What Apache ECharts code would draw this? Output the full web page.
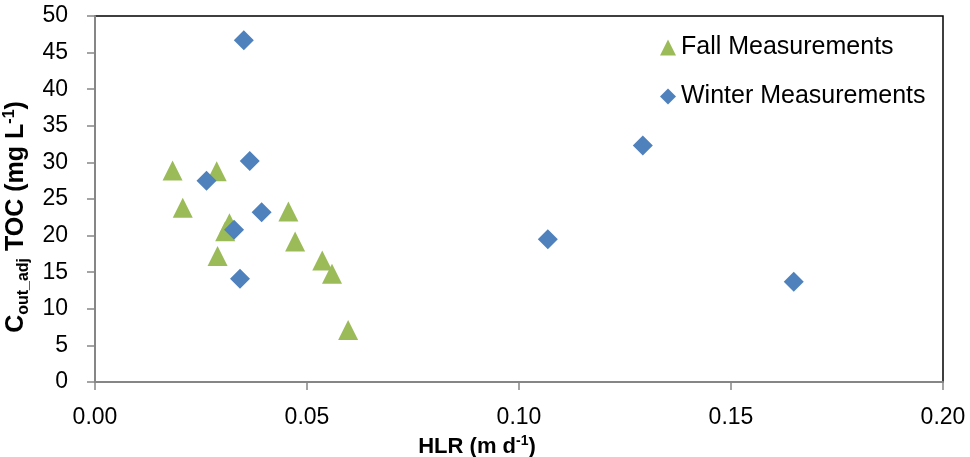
<!DOCTYPE html>
<html lang="en">
<head>
    <meta charset="UTF-8">
    <title>TOC vs HLR</title>
    <script src="https://cdn.jsdelivr.net/npm/echarts@6.0.0/dist/echarts.min.js"></script>
    <style>
        * { margin: 0; padding: 0; box-sizing: border-box; }
        body { background: #fff; }
        #chart { width: 970px; height: 457px; }
    </style>
</head>
<body>
    <div id="chart"></div>

    <script>
        // Fall measurements (HLR, C_out_adj TOC)
        const fallHLR = [0.0183, 0.0287, 0.0207, 0.0317, 0.0307, 0.0289, 0.0456, 0.0472, 0.0536, 0.0559, 0.0597];
        const fallTOC = [28.9, 28.8, 23.8, 21.7, 20.6, 17.2, 23.3, 19.2, 16.6, 14.8, 7.1];

        // Winter measurements
        const winterHLR = [0.0351, 0.0365, 0.0263, 0.0393, 0.0328, 0.0342, 0.1068, 0.1292, 0.1648];
        const winterTOC = [46.7, 30.2, 27.5, 23.2, 20.8, 14.1, 19.5, 32.3, 13.7];

        const seriesNames = ['Fall Measurements', 'Winter Measurements'];

        const FONT = '"Liberation Sans", Arial, sans-serif';

        function pairs(xs, ys) {
            return xs.map(function (x, i) { return [x, ys[i]]; });
        }

        const chart = echarts.init(document.getElementById('chart'));
        chart.setOption({
            animation: false,
            textStyle: { fontFamily: FONT },
            grid: {
                left: 95, right: 27, top: 16, bottom: 75,
                show: true,
                borderColor: '#000',
                borderWidth: 1.5,
                backgroundColor: 'transparent',
                outerBoundsMode: 'none'
            },
            legend: {
                orient: 'vertical',
                left: 655,
                top: 30,
                itemWidth: 16,
                itemHeight: 16,
                itemGap: 24,
                textStyle: { fontSize: 25, color: '#000', fontFamily: FONT },
                data: [
                    { name: seriesNames[0], icon: 'triangle' },
                    { name: seriesNames[1], icon: 'diamond' }
                ]
            },
            xAxis: {
                type: 'value',
                min: 0,
                max: 0.2,
                interval: 0.05,
                splitLine: { show: false },
                axisLine: { lineStyle: { color: '#868686', width: 2 } },
                axisTick: { show: true, length: 8, lineStyle: { color: '#868686', width: 1.5 } },
                axisLabel: {
                    fontSize: 23, color: '#000', margin: 24,
                    formatter: function (v) { return v.toFixed(2); }
                },
                name: '{b|HLR (m d}{sup|-1}{b|)}',
                nameLocation: 'middle',
                nameGap: 50,
                nameTextStyle: {
                    padding: [0, 84, 0, 0],
                    rich: {
                        b: { fontSize: 22, fontWeight: 'bold', color: '#000', lineHeight: 26, fontFamily: FONT },
                        sup: { fontSize: 14, fontWeight: 'bold', color: '#000', verticalAlign: 'top', lineHeight: 14, fontFamily: FONT }
                    }
                }
            },
            yAxis: {
                type: 'value',
                min: 0,
                max: 50,
                interval: 5,
                splitLine: { show: false },
                axisLine: { show: true, lineStyle: { color: '#868686', width: 2 } },
                axisTick: { show: true, length: 8, lineStyle: { color: '#868686', width: 1.5 } },
                axisLabel: { fontSize: 23, color: '#000', margin: 27 },
                name: '{b|C}{sub|out_adj}{b| TOC (mg L}{sup|-1}{b|)}',
                nameLocation: 'middle',
                nameRotate: 90,
                nameGap: 50,
                nameTextStyle: {
                    padding: [0, 36, 0, 0],
                    rich: {
                        b: { fontSize: 25, fontWeight: 'bold', color: '#000', lineHeight: 30, fontFamily: FONT },
                        sub: { fontSize: 16, fontWeight: 'bold', color: '#000', verticalAlign: 'bottom', lineHeight: 16, fontFamily: FONT },
                        sup: { fontSize: 16, fontWeight: 'bold', color: '#000', verticalAlign: 'top', lineHeight: 16, fontFamily: FONT }
                    }
                }
            },
            series: [
                {
                    name: seriesNames[0],
                    type: 'scatter',
                    symbol: 'triangle',
                    symbolSize: 20,
                    itemStyle: { color: '#9BBB59', opacity: 1 },
                    data: pairs(fallHLR, fallTOC)
                },
                {
                    name: seriesNames[1],
                    type: 'scatter',
                    symbol: 'diamond',
                    symbolSize: 20,
                    itemStyle: { color: '#4F81BD', opacity: 1 },
                    data: pairs(winterHLR, winterTOC)
                }
            ]
        });
    </script>
</body>
</html>
